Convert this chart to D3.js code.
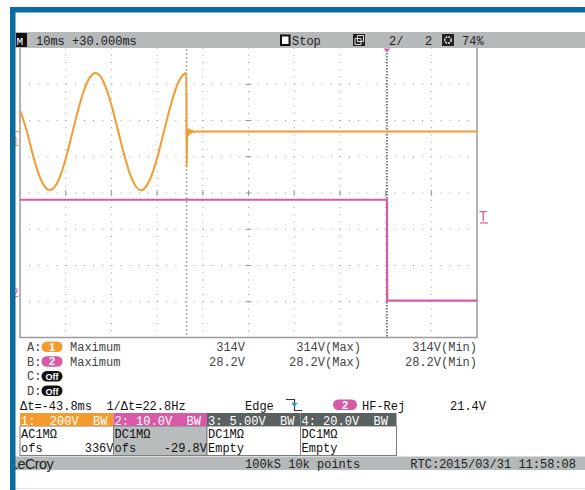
<!DOCTYPE html>
<html>
<head>
<meta charset="utf-8">
<script src="https://cdn.jsdelivr.net/npm/d3@7"></script>
<style>
  body { margin: 0; background: #fff; }
  svg { display: block; }
  text { font-family: "Liberation Mono", "DejaVu Sans Mono", monospace; font-size: 12px; }
</style>
</head>
<body>
<script>
const W = 585, H = 490;

// ch1 trace (ms, volts)
const ch1Time = [0, 1.5, 2.75, 4, 5.25, 6.5, 7.75, 9, 10.25, 11.5, 12.75, 14, 15.25, 16.5, 17.75,
  19, 20.25, 21.5, 22.75, 24, 25.25, 26.5, 27.75, 29, 30.25, 31.5, 32.75, 34, 35.25, 36.4,
  36.45, 36.6, 36.8, 37.0, 37.3, 37.6, 38.0, 38.5, 100];
const ch1Volt = [118, 2, -122, -228, -298, -322, -300, -230, -126, -2, 122, 228, 298, 324, 300,
  228, 124, 0, -124, -229, -299, -323, -298, -228, -123, 2, 125, 230, 299, 324,
  -196, 10, -20, 14, -10, 6, -4, 0, 0];
// ch2 trace
const ch2Time = [0, 80.3, 80.35, 100];
const ch2Volt = [27.8, 27.8, 0, 0];

const cursorTime = 36.45, triggerTime = 80.3, trigLevel = 21.4;
const ch1 = {vdiv: 200, ofs: 336}, ch2 = {vdiv: 10, ofs: -29.8};

const measRows = [
  {key: "A:", ch: "1", col: "#f59a2e", name: "Maximum", v: "314V", vmax: "314V(Max)", vmin: "314V(Min)"},
  {key: "B:", ch: "2", col: "#d65aa5", name: "Maximum", v: "28.2V", vmax: "28.2V(Max)", vmin: "28.2V(Min)"},
  {key: "C:", ch: "Off", col: "#111"},
  {key: "D:", ch: "Off", col: "#111"}
];
const chanBoxes = [
  {head: "1:  200V  BW", bg: "#f59a2e", body: "#fff", l1: "AC1MΩ", l2: "ofs", ofs: "336V"},
  {head: "2: 10.0V  BW", bg: "#d65aa5", body: "#b9bcbc", l1: "DC1MΩ", l2: "ofs", ofs: "-29.8V"},
  {head: "3: 5.00V  BW", bg: "#5b6161", body: "#fff", l1: "DC1MΩ", l2: "Empty", ofs: ""},
  {head: "4: 20.0V  BW", bg: "#5b6161", body: "#fff", l1: "DC1MΩ", l2: "Empty", ofs: ""}
];

const svg = d3.select("body").append("svg").attr("width", W).attr("height", H);
svg.append("rect").attr("width", W).attr("height", H).attr("fill", "#fff");

const x = d3.scaleLinear().domain([0, 100]).range([20, 477]);
const y = d3.scaleLinear().domain([-4, 4]).range([337.5, 47.5]);

// grid
const grid = svg.append("g").attr("stroke", "#9a9a9a").attr("stroke-width", 1);
d3.range(1, 10).forEach(i => {
  grid.append("line").attr("x1", x(i * 10)).attr("x2", x(i * 10))
    .attr("y1", y(4)).attr("y2", y(-4))
    .attr("stroke-dasharray", "1," + (36.25 / 5 - 1));
});
d3.range(-3, 4).forEach(i => {
  grid.append("line").attr("x1", x(0)).attr("x2", x(100))
    .attr("y1", y(i) + 0.5).attr("y2", y(i) + 0.5)
    .attr("stroke-dasharray", "1," + (45.7 / 5 - 1));
});
// centre ticks
d3.range(-3, 4).forEach(i => {
  grid.append("line").attr("x1", x(50) - 3).attr("x2", x(50) + 3)
    .attr("y1", y(i) + 0.5).attr("y2", y(i) + 0.5);
});
d3.range(1, 10).forEach(i => {
  grid.append("line").attr("x1", x(i * 10)).attr("x2", x(i * 10))
    .attr("y1", y(0) - 2.5).attr("y2", y(0) + 3.5);
});

// cursor + trigger lines
svg.append("line").attr("x1", x(cursorTime)).attr("x2", x(cursorTime))
  .attr("y1", 49).attr("y2", 337).attr("stroke", "#aaa")
  .attr("stroke-width", 1.6).attr("stroke-dasharray", "2,2");
svg.append("line").attr("x1", x(triggerTime)).attr("x2", x(triggerTime))
  .attr("y1", 53).attr("y2", 337).attr("stroke", "#333")
  .attr("stroke-width", 1.2).attr("stroke-dasharray", "1.5,1.5");

// frame
svg.append("path").attr("d", `M${x(0)},48V${y(-4)}H${x(100)}V48`)
  .attr("fill", "none").attr("stroke", "#9a9a9a").attr("stroke-width", 1.5);

// traces
const line1 = d3.line().x((d, i) => x(ch1Time[i])).y(d => y((d + ch1.ofs) / ch1.vdiv))
  .curve(d3.curveMonotoneX);
svg.append("path").attr("d", line1(ch1Volt)).attr("fill", "none")
  .attr("stroke", "#f59a2e").attr("stroke-width", 2);
const line2 = d3.line().x((d, i) => x(ch2Time[i])).y(d => y((d + ch2.ofs) / ch2.vdiv));
svg.append("path").attr("d", line2(ch2Volt)).attr("fill", "none")
  .attr("stroke", "#d65aa5").attr("stroke-width", 2.2);

// channel markers on the left / trigger level on the right
const g1 = y((0 + ch1.ofs) / ch1.vdiv);
svg.append("line").attr("x1", 14).attr("x2", 19).attr("y1", g1).attr("y2", g1)
  .attr("stroke", "#f59a2e").attr("stroke-width", 1.2);
svg.append("text").attr("x", 12).attr("y", g1 + 14).attr("fill", "#f59a2e").text("1");
const g2 = y((0 + ch2.ofs) / ch2.vdiv);
svg.append("text").attr("x", 11.5).attr("y", g2 - 4).attr("fill", "#d65aa5").text("2");
const tl = y((trigLevel + ch2.ofs) / ch2.vdiv);
svg.append("text").attr("x", 479).attr("y", tl - 2).attr("fill", "#d65aa5")
  .style("font-size", "14px").text("T");
svg.append("line").attr("x1", 480).attr("x2", 488).attr("y1", tl).attr("y2", tl)
  .attr("stroke", "#d65aa5").attr("stroke-width", 1.2);
svg.append("path").attr("d", `M${x(triggerTime) - 3.5},48.5h7l-3.5,4z`).attr("fill", "#d65aa5");

// header band
svg.append("rect").attr("x", 15).attr("y", 32).attr("width", W - 15).attr("height", 16).attr("fill", "#b5b9b9");
svg.append("rect").attr("x", 16).attr("y", 33).attr("width", 11).attr("height", 14).attr("fill", "#111");
svg.append("text").attr("x", 16.5).attr("y", 45).attr("fill", "#fff").style("font-size", "11px").text("M");
svg.append("text").attr("x", 36).attr("y", 45).attr("fill", "#222").text("10ms +30.000ms");
svg.append("rect").attr("x", 281).attr("y", 35.5).attr("width", 8.5).attr("height", 9.5)
  .attr("fill", "#fff").attr("stroke", "#111").attr("stroke-width", 2);
svg.append("text").attr("x", 292).attr("y", 45).attr("fill", "#222").text("Stop");
svg.append("rect").attr("x", 353).attr("y", 34).attr("width", 12).attr("height", 12).attr("fill", "#222");
svg.append("path").attr("d", "M357.5,35.5h6v6h-6zM355,38.5h6v6h-6z").attr("fill", "none")
  .attr("stroke", "#ddd").attr("stroke-width", 1);
svg.append("text").attr("x", 389).attr("y", 45).attr("fill", "#222").attr("xml:space", "preserve").text("2/   2");
svg.append("rect").attr("x", 442).attr("y", 34).attr("width", 12).attr("height", 12).attr("fill", "#222");
svg.append("circle").attr("cx", 448).attr("cy", 40).attr("r", 3.2).attr("fill", "none")
  .attr("stroke", "#fff").attr("stroke-width", 1.3).attr("stroke-dasharray", "2,1");
svg.append("text").attr("x", 462).attr("y", 45).attr("fill", "#222").text("74%");

// measurement rows
measRows.forEach((r, i) => {
  const by = 351 + i * 14.7;
  svg.append("text").attr("x", 27).attr("y", by).attr("fill", "#444").text(r.key);
  svg.append("rect").attr("x", 41.5).attr("y", by - 9.5).attr("width", 21).attr("height", 10.5)
    .attr("rx", 5.2).attr("fill", r.col);
  svg.append("text").attr("x", 52).attr("y", by - 0.5).attr("text-anchor", "middle")
    .attr("fill", "#fff").style("font-size", r.ch === "Off" ? "9px" : "11px")
    .style("font-weight", "bold").style("font-family", "Liberation Sans, sans-serif").text(r.ch);
  if (r.name) {
    svg.append("text").attr("x", 70).attr("y", by).attr("fill", "#444").text(r.name);
    svg.append("text").attr("x", 245).attr("y", by).attr("text-anchor", "end").attr("fill", "#444").text(r.v);
    svg.append("text").attr("x", 361).attr("y", by).attr("text-anchor", "end").attr("fill", "#444").text(r.vmax);
    svg.append("text").attr("x", 477).attr("y", by).attr("text-anchor", "end").attr("fill", "#444").text(r.vmin);
  }
});

// cursor / trigger row
svg.append("text").attr("x", 20).attr("y", 409.5).attr("fill", "#111").attr("xml:space", "preserve")
  .text("Δt=-43.8ms  1/Δt=22.8Hz");
svg.append("text").attr("x", 245).attr("y", 409.5).attr("fill", "#111").text("Edge");
svg.append("path").attr("d", "M286,399.5H294.5V410.5H302").attr("fill", "none").attr("stroke", "#333").attr("stroke-width", 1.2);
svg.append("path").attr("d", "M291.5,403h6l-3,4z").attr("fill", "#1a9fd8");
svg.append("rect").attr("x", 333).attr("y", 399.5).attr("width", 24).attr("height", 10.5).attr("rx", 5.2).attr("fill", "#d65aa5");
svg.append("text").attr("x", 345).attr("y", 409).attr("text-anchor", "middle").attr("fill", "#fff")
  .style("font-size", "11px").style("font-weight", "bold").style("font-family", "Liberation Sans, sans-serif").text("2");
svg.append("text").attr("x", 362).attr("y", 409.5).attr("fill", "#111").text("HF-Rej");
svg.append("text").attr("x", 486).attr("y", 409.5).attr("text-anchor", "end").attr("fill", "#111").text(trigLevel.toFixed(1) + "V");

// channel boxes
chanBoxes.forEach((c, i) => {
  const bx = 20 + i * 93.5, bw = i === 3 ? 96 : 93.5;
  svg.append("rect").attr("x", bx).attr("y", 426).attr("width", bw).attr("height", 29.5)
    .attr("fill", c.body).attr("stroke", "#7a7f7f").attr("stroke-width", 1);
  svg.append("rect").attr("x", bx).attr("y", 413).attr("width", bw).attr("height", 13).attr("fill", c.bg);
  svg.append("text").attr("x", bx + 1).attr("y", 424.5).attr("fill", "#fff").attr("xml:space", "preserve").text(c.head);
  svg.append("text").attr("x", bx + 1).attr("y", 438).attr("fill", "#111").text(c.l1);
  svg.append("text").attr("x", bx + 1).attr("y", 451.5).attr("fill", "#111").text(c.l2);
  if (c.ofs) svg.append("text").attr("x", bx + bw).attr("y", 451.5).attr("text-anchor", "end").attr("fill", "#111").text(c.ofs);
});

// bottom status bar
svg.append("rect").attr("x", 15).attr("y", 456.5).attr("width", W - 15).attr("height", 13.5).attr("fill", "#b5b9b9");
svg.append("text").attr("x", 10).attr("y", 468.5).attr("fill", "#222")
  .style("font-family", "Liberation Sans, sans-serif").style("font-size", "14.5px").style("letter-spacing", "-0.6px").text("LeCroy");
svg.append("text").attr("x", 245).attr("y", 468).attr("fill", "#222").text("100kS 10k points");
svg.append("text").attr("x", 576).attr("y", 468).attr("text-anchor", "end").attr("fill", "#222").text("RTC:2015/03/31 11:58:08");
svg.append("line").attr("x1", 15).attr("x2", W).attr("y1", 488.5).attr("y2", 488.5).attr("stroke", "#dfe3e6");

// blue frame
svg.append("rect").attr("x", 10).attr("y", 7).attr("width", 5.5).attr("height", H - 7).attr("fill", "#0b6b9e");
svg.append("rect").attr("x", 10).attr("y", 7).attr("width", W - 10).attr("height", 5.5).attr("fill", "#0b6b9e");
</script>
</body>
</html>
